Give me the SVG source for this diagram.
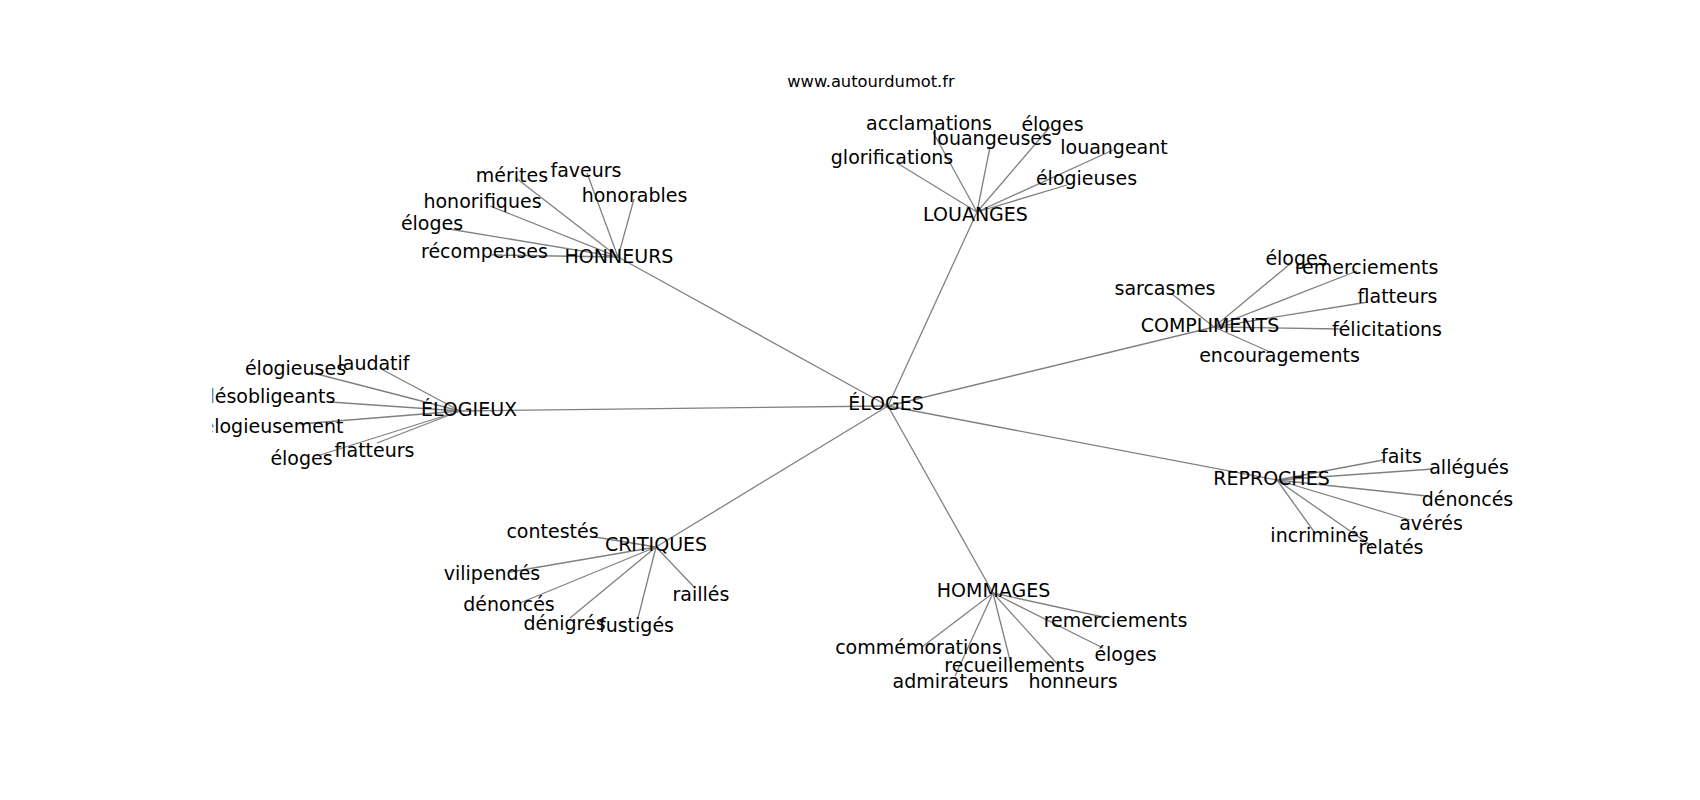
<svg xmlns="http://www.w3.org/2000/svg" width="1700" height="800" viewBox="0 0 1700 800">
<style>
.e line{stroke:#808080;stroke-width:1.3;fill:none}
text{font-family:"DejaVu Sans","Liberation Sans",sans-serif;fill:#000}
.n text{font-size:19px;text-anchor:middle}
.title{font-size:16.3px;text-anchor:middle}
</style>
<defs>
<clipPath id="ax"><rect x="212.5" y="96" width="1317.5" height="616"/></clipPath>
</defs>
<rect width="1700" height="800" fill="#fff"/>
<text class="title" x="871" y="87">www.autourdumot.fr</text>
<g clip-path="url(#ax)">
<g id="connectors" class="e">
<line x1="888" y1="406" x2="618" y2="257"/>
<line x1="888" y1="406" x2="977" y2="212"/>
<line x1="888" y1="406" x2="1214" y2="327"/>
<line x1="888" y1="406" x2="1277" y2="480"/>
<line x1="888" y1="406" x2="993" y2="593"/>
<line x1="888" y1="406" x2="656" y2="547"/>
<line x1="888" y1="406" x2="460" y2="411"/>
<line x1="618" y1="257" x2="516" y2="178"/>
<line x1="618" y1="257" x2="587" y2="173"/>
<line x1="618" y1="257" x2="490" y2="206"/>
<line x1="618" y1="257" x2="634" y2="199"/>
<line x1="618" y1="257" x2="443" y2="228"/>
<line x1="618" y1="257" x2="492" y2="255"/>
<line x1="977" y1="212" x2="897" y2="163"/>
<line x1="977" y1="212" x2="933" y2="132"/>
<line x1="977" y1="212" x2="990" y2="147"/>
<line x1="977" y1="212" x2="1050" y2="127"/>
<line x1="977" y1="212" x2="1113" y2="150"/>
<line x1="977" y1="212" x2="1067" y2="185"/>
<line x1="1214" y1="327" x2="1290" y2="264"/>
<line x1="1214" y1="327" x2="1357" y2="271"/>
<line x1="1214" y1="327" x2="1172" y2="294"/>
<line x1="1214" y1="327" x2="1368" y2="302"/>
<line x1="1214" y1="327" x2="1340" y2="329"/>
<line x1="1214" y1="327" x2="1270" y2="352"/>
<line x1="1277" y1="480" x2="1383" y2="460"/>
<line x1="1277" y1="480" x2="1433" y2="469"/>
<line x1="1277" y1="480" x2="1427" y2="496"/>
<line x1="1277" y1="480" x2="1410" y2="520"/>
<line x1="1277" y1="480" x2="1315" y2="533"/>
<line x1="1277" y1="480" x2="1373" y2="547"/>
<line x1="993" y1="593" x2="1103" y2="617"/>
<line x1="993" y1="593" x2="922" y2="647"/>
<line x1="993" y1="593" x2="1103" y2="648"/>
<line x1="993" y1="593" x2="1012" y2="668"/>
<line x1="993" y1="593" x2="955" y2="676"/>
<line x1="993" y1="593" x2="1060" y2="667"/>
<line x1="656" y1="547" x2="595" y2="537"/>
<line x1="656" y1="547" x2="510" y2="572"/>
<line x1="656" y1="547" x2="520" y2="603"/>
<line x1="656" y1="547" x2="570" y2="618"/>
<line x1="656" y1="547" x2="638" y2="618"/>
<line x1="656" y1="547" x2="695" y2="588"/>
<line x1="460" y1="411" x2="313" y2="373"/>
<line x1="460" y1="411" x2="383" y2="370"/>
<line x1="460" y1="411" x2="330" y2="402"/>
<line x1="460" y1="411" x2="300" y2="424"/>
<line x1="460" y1="411" x2="320" y2="455"/>
<line x1="460" y1="411" x2="377" y2="443"/>
</g>
<g id="n-eloges" class="n"><text x="886" y="410">ÉLOGES</text></g>
<g id="n-honneurs" class="n"><text x="619" y="263">HONNEURS</text></g>
<g id="n-louanges" class="n"><text x="975.5" y="221">LOUANGES</text></g>
<g id="n-compliments" class="n"><text x="1210" y="332">COMPLIMENTS</text></g>
<g id="n-reproches" class="n"><text x="1271.5" y="485">REPROCHES</text></g>
<g id="n-hommages" class="n"><text x="993.5" y="597">HOMMAGES</text></g>
<g id="n-critiques" class="n"><text x="656" y="551">CRITIQUES</text></g>
<g id="n-elogieux" class="n"><text x="469" y="416">ÉLOGIEUX</text></g>
<g id="n-honneurs-merites" class="n"><text x="512" y="182">mérites</text></g>
<g id="n-honneurs-faveurs" class="n"><text x="586" y="177">faveurs</text></g>
<g id="n-honneurs-honorifiques" class="n"><text x="482.5" y="208">honorifiques</text></g>
<g id="n-honneurs-honorables" class="n"><text x="634.5" y="202">honorables</text></g>
<g id="n-honneurs-eloges" class="n"><text x="432" y="230">éloges</text></g>
<g id="n-honneurs-recompenses" class="n"><text x="484.5" y="258">récompenses</text></g>
<g id="n-louanges-acclamations" class="n"><text x="929" y="130">acclamations</text></g>
<g id="n-louanges-louangeuses" class="n"><text x="992" y="145">louangeuses</text></g>
<g id="n-louanges-eloges" class="n"><text x="1052.5" y="131">éloges</text></g>
<g id="n-louanges-louangeant" class="n"><text x="1114" y="154">louangeant</text></g>
<g id="n-louanges-elogieuses" class="n"><text x="1086.5" y="185">élogieuses</text></g>
<g id="n-louanges-glorifications" class="n"><text x="892" y="164">glorifications</text></g>
<g id="n-compliments-eloges" class="n"><text x="1296.5" y="265">éloges</text></g>
<g id="n-compliments-remerciements" class="n"><text x="1366.5" y="274">remerciements</text></g>
<g id="n-compliments-sarcasmes" class="n"><text x="1165" y="295">sarcasmes</text></g>
<g id="n-compliments-flatteurs" class="n"><text x="1397.5" y="303">flatteurs</text></g>
<g id="n-compliments-felicitations" class="n"><text x="1387" y="336">félicitations</text></g>
<g id="n-compliments-encouragements" class="n"><text x="1279.5" y="362">encouragements</text></g>
<g id="n-reproches-faits" class="n"><text x="1401.5" y="463">faits</text></g>
<g id="n-reproches-allegues" class="n"><text x="1469" y="474">allégués</text></g>
<g id="n-reproches-denonces" class="n"><text x="1467.5" y="506">dénoncés</text></g>
<g id="n-reproches-averes" class="n"><text x="1431" y="530">avérés</text></g>
<g id="n-reproches-incrimines" class="n"><text x="1319.5" y="542">incriminés</text></g>
<g id="n-reproches-relates" class="n"><text x="1391" y="554">relatés</text></g>
<g id="n-hommages-remerciements" class="n"><text x="1115.5" y="627">remerciements</text></g>
<g id="n-hommages-commemorations" class="n"><text x="918.5" y="654">commémorations</text></g>
<g id="n-hommages-eloges" class="n"><text x="1125.5" y="661">éloges</text></g>
<g id="n-hommages-recueillements" class="n"><text x="1014.5" y="672">recueillements</text></g>
<g id="n-hommages-admirateurs" class="n"><text x="950.5" y="688">admirateurs</text></g>
<g id="n-hommages-honneurs" class="n"><text x="1073" y="688">honneurs</text></g>
<g id="n-critiques-contestes" class="n"><text x="552.5" y="538">contestés</text></g>
<g id="n-critiques-vilipendes" class="n"><text x="492" y="580">vilipendés</text></g>
<g id="n-critiques-denonces" class="n"><text x="509" y="611">dénoncés</text></g>
<g id="n-critiques-denigres" class="n"><text x="564.5" y="630">dénigrés</text></g>
<g id="n-critiques-fustiges" class="n"><text x="636.5" y="632">fustigés</text></g>
<g id="n-critiques-railles" class="n"><text x="701" y="601">raillés</text></g>
<g id="n-elogieux-elogieuses" class="n"><text x="295.5" y="375">élogieuses</text></g>
<g id="n-elogieux-laudatif" class="n"><text x="373.5" y="370">laudatif</text></g>
<g id="n-elogieux-desobligeants" class="n"><text x="269" y="403">désobligeants</text></g>
<g id="n-elogieux-elogieusement" class="n"><text x="273" y="433">élogieusement</text></g>
<g id="n-elogieux-eloges" class="n"><text x="301.5" y="465">éloges</text></g>
<g id="n-elogieux-flatteurs" class="n"><text x="374.5" y="457">flatteurs</text></g>
</g>
</svg>
